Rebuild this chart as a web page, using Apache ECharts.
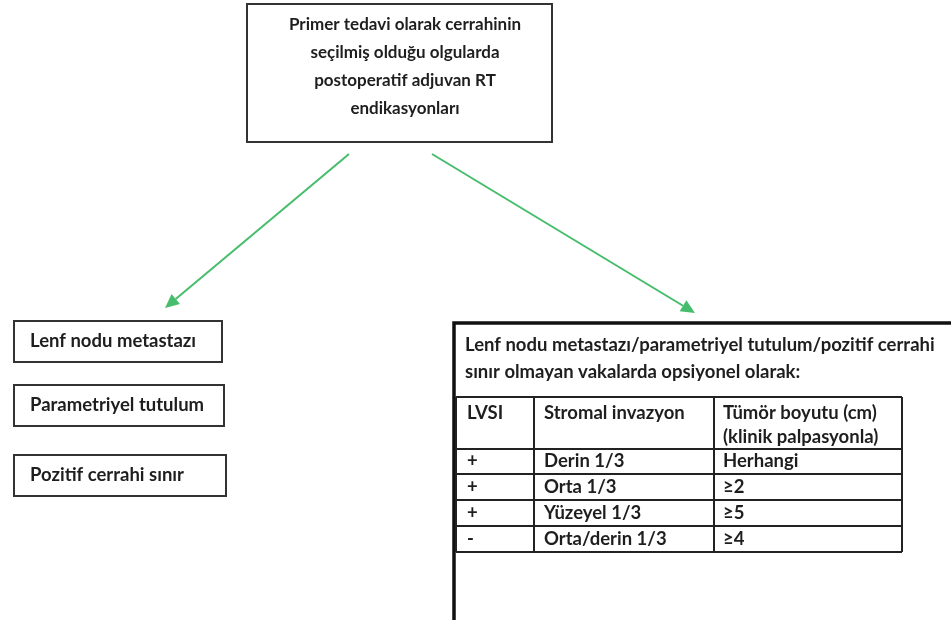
<!DOCTYPE html>
<html>
<head>
<meta charset="utf-8">
<script src="https://cdn.jsdelivr.net/npm/echarts@6/dist/echarts.min.js"></script>
<style>html,body{margin:0;padding:0;background:#fff;}#main{width:951px;height:620px;}</style>
</head>
<body>
<div id="main"></div>
<script>
// ---- Content ----
const topLines = ['Primer tedavi olarak cerrahinin', 'seçilmiş olduğu olgularda', 'postoperatif adjuvan RT', 'endikasyonları'];
const leftItems = ['Lenf nodu metastazı', 'Parametriyel tutulum', 'Pozitif cerrahi sınır'];
const rightIntro = ['Lenf nodu metastazı/parametriyel tutulum/pozitif cerrahi', 'sınır olmayan vakalarda opsiyonel olarak:'];
const tableHeader = ['LVSI', 'Stromal invazyon', 'Tümör boyutu (cm)\n(klinik palpasyonla)'];
const lvsi = ['+', '+', '+', '-'];
const stromal = ['Derin 1/3', 'Orta 1/3', 'Yüzeyel 1/3', 'Orta/derin 1/3'];
const tumorSize = ['Herhangi', '≥2', '≥5', '≥4'];

// ---- Layout ----
const FONT = 'Lato, "Open Sans", sans-serif';
const F = 'bold 18.5px ' + FONT;
const FTOP = 'bold 17px ' + FONT;
const TXT = '#1e1e1e';
const GREEN = '#46bd6c';
const L = {
  top: { x: 247, y: 4, w: 305, h: 138, cx: 405, lineY0: 25, lineGap: 27.7 },
  left: { x: 14, tops: [321, 385, 455], widths: [208, 210, 212], h: 41, textX: 30 },
  right: { x: 454, y: 323 },
  intro: { x: 465, y0: 345, gap: 27 },
  table: { x0: 456, x1: 902, cols: [456, 534, 714, 902], rows: [397, 449, 474, 500, 526, 552], head: [413, 437] },
  arrows: [[349, 154, 165, 308], [432, 154, 695, 313]]
};

const g = [];
// top box
g.push({ type: 'rect', shape: { x: L.top.x, y: L.top.y, width: L.top.w, height: L.top.h },
  style: { fill: '#fff', stroke: '#333', lineWidth: 2 } });
topLines.forEach((t, i) => g.push({ type: 'text', x: L.top.cx, y: L.top.lineY0 + i * L.top.lineGap,
  style: { text: t, fill: TXT, font: FTOP, align: 'center', verticalAlign: 'middle' } }));

// arrows
L.arrows.forEach(a => {
  const [x1, y1, x2, y2] = a;
  const ang = Math.atan2(y2 - y1, x2 - x1);
  const len = 14, half = 6.5;
  const bx = x2 - len * Math.cos(ang), by = y2 - len * Math.sin(ang);
  g.push({ type: 'line', shape: { x1, y1, x2: bx, y2: by }, style: { stroke: GREEN, lineWidth: 2 } });
  g.push({ type: 'polygon', shape: { points: [[x2, y2],
    [bx + half * Math.sin(ang), by - half * Math.cos(ang)],
    [bx - half * Math.sin(ang), by + half * Math.cos(ang)]] }, style: { fill: GREEN } });
});

// left boxes
leftItems.forEach((t, i) => {
  const y = L.left.tops[i];
  g.push({ type: 'rect', shape: { x: L.left.x, y, width: L.left.widths[i], height: L.left.h },
    style: { fill: '#fff', stroke: '#333', lineWidth: 2 } });
  g.push({ type: 'text', x: L.left.textX, y: y + L.left.h / 2,
    style: { text: t, fill: TXT, font: F, verticalAlign: 'middle' } });
});

// right big box (clipped by canvas)
g.push({ type: 'polyline', shape: { points: [[L.right.x, 700], [L.right.x, L.right.y], [1000, L.right.y]] },
  style: { stroke: '#111', lineWidth: 3.5, fill: null } });
rightIntro.forEach((t, i) => g.push({ type: 'text', x: L.intro.x, y: L.intro.y0 + i * L.intro.gap,
  style: { text: t, fill: TXT, font: F, verticalAlign: 'middle' } }));

// table
const T = L.table;
T.rows.forEach(y => g.push({ type: 'line', shape: { x1: T.x0, y1: y, x2: T.x1, y2: y }, style: { stroke: '#222', lineWidth: 2 } }));
T.cols.forEach(x => g.push({ type: 'line', shape: { x1: x, y1: T.rows[0], x2: x, y2: T.rows[T.rows.length - 1] }, style: { stroke: '#222', lineWidth: 2 } }));
const colText = [467, 544, 723];
tableHeader.forEach((t, c) => t.split('\n').forEach((ln, k) => g.push({ type: 'text', x: colText[c], y: T.head[k],
  style: { text: ln, fill: TXT, font: F, verticalAlign: 'middle' } })));
const cols = [lvsi, stromal, tumorSize];
cols.forEach((arr, c) => arr.forEach((t, r) => g.push({ type: 'text', x: colText[c], y: (T.rows[r + 1] + T.rows[r + 2]) / 2,
  style: { text: t, fill: TXT, font: F, verticalAlign: 'middle' } })));

const chart = echarts.init(document.getElementById('main'), null, { renderer: 'canvas' });
chart.setOption({ backgroundColor: '#fff', animation: false, graphic: { elements: g } });
</script>
</body>
</html>
